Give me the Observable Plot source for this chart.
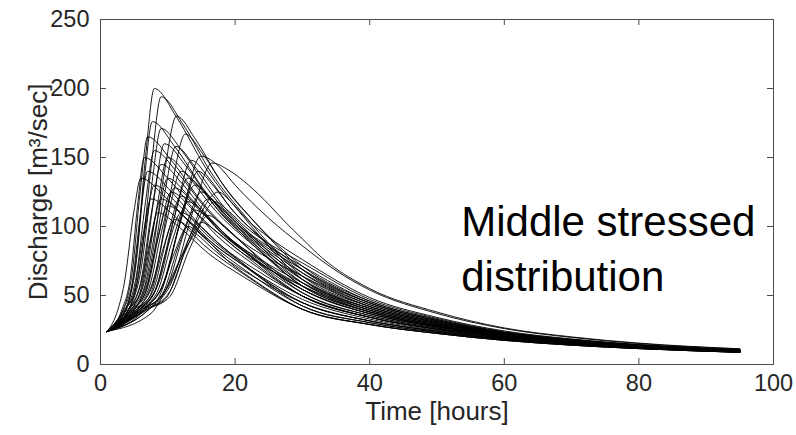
<!DOCTYPE html>
<html><head><meta charset="utf-8">
<script src="https://cdn.jsdelivr.net/npm/d3@7"></script>
<script src="https://cdn.jsdelivr.net/npm/@observablehq/plot@0.6"></script>
<style>html,body{margin:0;padding:0;background:#fff;}</style>
</head><body><div id="chart"></div>
<script>
// Each run: [time (hours), discharge (m3/sec)] points
const run01 = [[1,24],[3.8,40],[5.3,76.8],[6.7,150.7],[8,200],[11.3,179.2],[15.7,141.9],[21.2,107.3],[30,61.6],[40,40.7],[50,29.5],[60,21.6],[70,16.7],[80,13.3],[95,10]];
const run02 = [[1,24],[4.2,40],[6,75],[7.6,146.4],[9,194],[12.2,174.5],[16.4,139.4],[21.6,106.9],[30,64],[40,42],[50,30.3],[60,22],[70,17],[80,13.5],[95,10.1]];
const run03 = [[1,24],[5.1,40],[7.4,70.8],[9.4,136.3],[11.3,180],[14.1,163.3],[17.8,133.3],[22.5,105.5],[30,68.8],[40,44.6],[50,31.8],[60,22.9],[70,17.6],[80,13.9],[95,10.4]];
const run04 = [[1,24],[3.7,40],[5.2,69.6],[6.5,133.4],[7.7,176],[11,158.1],[15.5,125.9],[21.1,96.1],[30,56.8],[40,38.1],[50,27.9],[60,20.7],[70,16.1],[80,12.9],[95,9.7]];
const run05 = [[1,24],[5.6,40],[8.2,66.9],[10.5,127],[12.6,167],[15.2,152.6],[18.7,126.8],[23,102.8],[30,71.2],[40,45.9],[50,32.6],[60,23.4],[70,17.9],[80,14.1],[95,10.5]];
const run06 = [[1,24],[4.2,40],[6,68.1],[7.6,129.8],[9,171],[12.2,154.2],[16.4,124],[21.6,96.1],[30,59.2],[40,39.4],[50,28.7],[60,21.1],[70,16.4],[80,13.1],[95,9.8]];
const run07 = [[1,24],[7.2,40],[10.7,61],[13.8,112],[16.6,146],[19,141],[22,130],[25,116],[27.3,104],[30,91],[33,77],[40,55],[50,38],[60,26.5],[70,20],[80,15.5],[95,11.4]];
const run08 = [[1,24],[5.1,40],[7.3,64.2],[9.4,120.5],[11.2,158],[14,143.5],[17.8,117.5],[22.5,93.4],[30,61.6],[40,40.7],[50,29.5],[60,21.6],[70,16.7],[80,13.3],[95,10]];
const run09 = [[1,24],[6.6,40],[9.6,62],[12.4,115],[14.9,151],[17.5,144],[20,130],[25,106],[30,86],[35,68],[40,54],[50,37],[60,26],[70,19.6],[80,15.2],[95,11.2]];
const run10 = [[1,24],[3.4,40],[4.7,66.3],[5.9,125.5],[7,165],[10.5,148],[15.1,117.5],[20.8,89.3],[30,52],[40,35.5],[50,26.4],[60,19.8],[70,15.5],[80,12.5],[95,9.5]];
const run11 = [[1,24],[3.8,40],[5.3,63.3],[6.7,118.3],[8,155],[11.3,139.9],[15.7,112.7],[21.2,87.6],[30,54.4],[40,36.8],[50,27.2],[60,20.2],[70,15.8],[80,12.7],[95,9.6]];
const run12 = [[1,24],[4.6,40],[6.6,61.8],[8.4,114.7],[10,150],[13,136.4],[17,111.9],[22,89.2],[30,59.2],[40,39.4],[50,28.7],[60,21.1],[70,16.4],[80,13.1],[95,9.8]];
const run13 = [[1,24],[3.4,40],[4.7,58.8],[5.9,107.5],[7,140],[10.5,125.4],[15.1,99],[20.8,74.6],[30,42.4],[40,30.3],[50,23.3],[60,18],[70,14.3],[80,11.7],[95,8.9]];
const run14 = [[1,24],[4.2,40],[6,60.3],[7.6,111.1],[9,145],[12.2,130.7],[16.4,104.9],[21.6,81.1],[30,49.6],[40,34.2],[50,25.6],[60,19.3],[70,15.2],[80,12.3],[95,9.3]];
const run15 = [[1,24],[5.4,40],[7.8,58.8],[10,107.5],[12,140],[14.7,128.2],[18.3,107.1],[22.8,87.5],[30,61.6],[40,40.7],[50,29.5],[60,21.6],[70,16.7],[80,13.3],[95,10]];
const run16 = [[1,24],[5.8,40],[8.4,57.3],[10.8,103.9],[13,135],[15.6,124.4],[19,105.2],[23.2,87.4],[30,64],[40,42],[50,30.3],[60,22],[70,17],[80,13.5],[95,10.1]];
const run17 = [[1,24],[4.6,40],[6.6,57.3],[8.4,103.9],[10,135],[13,122.6],[17,100.1],[22,79.4],[30,52],[40,35.5],[50,26.4],[60,19.8],[70,15.5],[80,12.5],[95,9.5]];
const run18 = [[1,24],[3.8,40],[5.3,55.8],[6.7,100.3],[8,130],[11.3,117.2],[15.7,94.2],[21.2,72.9],[30,44.8],[40,31.6],[50,24.1],[60,18.4],[70,14.6],[80,11.9],[95,9.1]];
const run19 = [[1,24],[6.2,40],[9.1,55.8],[11.7,100.3],[14,130],[16.4,120.5],[19.6,103.3],[23.6,87.4],[30,66.4],[40,43.3],[50,31],[60,22.5],[70,17.3],[80,13.7],[95,10.2]];
const run20 = [[1,24],[5,40],[7.2,55.2],[9.2,98.9],[11,128],[13.9,117],[17.7,97.1],[22.4,78.7],[30,54.4],[40,36.8],[50,27.2],[60,20.2],[70,15.8],[80,12.7],[95,9.6]];
const run21 = [[1,24],[6.6,40],[9.7,54.3],[12.5,96.7],[15,125],[17.3,116.6],[20.3,101.4],[24,87.3],[30,68.8],[40,44.6],[50,31.8],[60,22.9],[70,17.6],[80,13.9],[95,10.4]];
const run22 = [[1,24],[5.4,40],[7.8,53.4],[10,94.6],[12,122],[14.7,111.9],[18.3,93.6],[22.8,76.7],[30,54.4],[40,36.8],[50,27.2],[60,20.2],[70,15.8],[80,12.7],[95,9.6]];
const run23 = [[1,24],[7,40],[10.3,52.8],[13.3,93.1],[16,120],[18.1,112.7],[20.9,99.5],[24.4,87.3],[30,71.2],[40,45.9],[50,32.6],[60,23.4],[70,17.9],[80,14.1],[95,10.5]];
const run24 = [[1,24],[4.2,40],[6,52.8],[7.6,93.1],[9,120],[12.2,108.4],[16.4,87.4],[21.6,68],[30,42.4],[40,30.3],[50,23.3],[60,18],[70,14.3],[80,11.7],[95,8.9]];
const run25 = [[1,24],[5.8,40],[8.4,52.2],[10.8,91.7],[13,118],[15.6,108.8],[19,92.3],[23.2,77],[30,56.8],[40,38.1],[50,27.9],[60,20.7],[70,16.1],[80,12.9],[95,9.7]];
const run26 = [[1,24],[7.5,37],[9.8,55],[11.7,75],[14.1,96],[17,118],[19,111.3],[21.6,99.4],[24.8,88.3],[30,73.6],[40,47.2],[50,33.4],[60,23.8],[70,18.2],[80,14.3],[95,10.6]];
const run27 = [[1,24],[4.6,40],[6.6,51.3],[8.4,89.5],[10,115],[13,104.8],[17,86.5],[22,69.6],[30,47.2],[40,32.9],[50,24.8],[60,18.9],[70,14.9],[80,12.1],[95,9.2]];
const run28 = [[1,24],[6.2,40],[9.1,50.4],[11.7,87.4],[14,112],[16.4,104.1],[19.6,89.8],[23.6,76.6],[30,59.2],[40,39.4],[50,28.7],[60,21.1],[70,16.4],[80,13.1],[95,9.8]];
const run29 = [[1,24],[5.4,40],[7.8,49.8],[10,85.9],[12,110],[14.7,100.9],[18.3,84.6],[22.8,69.5],[30,49.6],[40,34.2],[50,25.6],[60,19.3],[70,15.2],[80,12.3],[95,9.3]];
const run30 = [[1,24],[7,40],[10.3,49.2],[13.3,84.5],[16,108],[18.1,101.4],[20.9,89.5],[24.4,78.5],[30,64],[40,42],[50,30.3],[60,22],[70,17],[80,13.5],[95,10.1]];
const run31 = [[1,24],[5,40],[7.2,48.3],[9.2,82.3],[11,105],[13.9,96],[17.7,79.7],[22.4,64.7],[30,44.8],[40,31.6],[50,24.1],[60,18.4],[70,14.6],[80,11.9],[95,9.1]];
const run32 = [[1,24],[6.6,40],[9.7,47.7],[12.5,80.9],[15,103],[17.3,96.1],[20.3,83.6],[24,72],[30,56.8],[40,38.1],[50,27.9],[60,20.7],[70,16.1],[80,12.9],[95,9.7]];
const run33 = [[1,24],[5.8,40],[8.4,46.8],[10.8,78.7],[13,100],[15.6,91],[19,74.8],[23.2,59.8],[30,40],[40,29],[50,22.5],[60,17.5],[70,14],[80,11.5],[95,8.8]];
const run34 = [[1,24],[3.2,40],[4.4,61.8],[5.5,114.7],[6.5,150],[10,134.9],[14.7,107.8],[20.6,82.7],[30,49.6],[40,34.2],[50,25.6],[60,19.3],[70,15.2],[80,12.3],[95,9.3]];
const run35 = [[1,24],[3.6,40],[5,52.8],[6.3,93.1],[7.5,120],[10.9,108],[15.4,86.4],[21,66.4],[30,40],[40,29],[50,22.5],[60,17.5],[70,14],[80,11.5],[95,8.8]];
const run36 = [[1,24],[7.2,40],[10,56],[13.5,95],[17.5,125],[19.4,117.7],[21.9,104.4],[25,92.2],[30,76],[40,48.5],[50,34.1],[60,24.3],[70,18.5],[80,14.5],[95,10.8]];
const run37 = [[1,24],[6.4,40],[9.4,58.8],[12.1,107.5],[14.5,140],[16.8,129.3],[19.9,110.1],[23.8,92.3],[30,68.8],[40,44.6],[50,31.8],[60,22.9],[70,17.6],[80,13.9],[95,10.4]];
const run38 = [[1,24],[4.8,40],[6.9,54.3],[8.8,96.7],[10.5,125],[13.4,113.7],[17.3,93.3],[22.2,74.5],[30,49.6],[40,34.2],[50,25.6],[60,19.3],[70,15.2],[80,12.3],[95,9.3]];
const run39 = [[1,24],[4,40],[5.7,49.8],[7.2,85.9],[8.5,110],[11.7,99.5],[16,80.6],[21.4,63.1],[30,40],[40,29],[50,22.5],[60,17.5],[70,14],[80,11.5],[95,8.8]];
const run40 = [[1,24],[4.4,40],[6.3,64.8],[8,121.9],[9.5,160],[12.6,144.5],[16.7,116.7],[21.8,90.9],[30,56.8],[40,38.1],[50,27.9],[60,20.7],[70,16.1],[80,12.9],[95,9.7]];
const run41 = [[1,24],[2.6,40],[3.5,58],[5,112],[6,135],[9.6,121.5],[14.4,97.1],[20.4,74.6],[30,44.8],[40,31.6],[50,24.1],[60,18.4],[70,14.6],[80,11.9],[95,9.1]];
const run42 = [[1,24],[6,40],[8.8,61.2],[11.3,113.3],[13.5,148],[16,135.8],[19.3,113.7],[23.4,93.3],[30,66.4],[40,43.3],[50,31],[60,22.5],[70,17.3],[80,13.7],[95,10.2]];

const xTicks = [0, 20, 40, 60, 80, 100];
const yTicks = [0, 50, 100, 150, 200, 250];
const xTitle = "Time [hours]";
const yTitle = "Discharge [m³/sec]";
const note = "Middle stressed\ndistribution";

const runs = [run01,run02,run03,run04,run05,run06,run07,run08,run09,run10,run11,run12,run13,run14,
  run15,run16,run17,run18,run19,run20,run21,run22,run23,run24,run25,run26,run27,run28,
  run29,run30,run31,run32,run33,run34,run35,run36,run37,run38,run39,run40,run41,run42];
const rows = runs.flatMap((r, i) => r.map(([t, q]) => ({run: i, t, q})));

const W = 796, H = 435, mL = 100, mR = 23, mT = 19, mB = 71;
const innerW = W - mL - mR, innerH = H - mT - mB;
const font = "'Liberation Sans', Arial, Helvetica, sans-serif";
const axisColor = "#4d4d4d";

const chart = Plot.plot({
  width: W, height: H,
  marginLeft: mL, marginRight: mR, marginTop: mT, marginBottom: mB,
  style: {fontFamily: font, background: "#fff", color: "#262626"},
  x: {domain: [0, 100]},
  y: {domain: [0, 250]},
  marks: [
    Plot.line(rows, {x: "t", y: "q", z: "run", stroke: "#000", strokeWidth: 0.9, curve: "monotone-x"}),
    Plot.frame({stroke: axisColor}),
    Plot.ruleX(xTicks, {x: d => d, insetTop: innerH - 6, stroke: axisColor}),
    Plot.ruleX(xTicks, {x: d => d, insetBottom: innerH - 6, stroke: axisColor}),
    Plot.ruleY(yTicks, {y: d => d, insetRight: innerW - 6, stroke: axisColor}),
    Plot.ruleY(yTicks, {y: d => d, insetLeft: innerW - 6, stroke: axisColor}),
    Plot.axisX({ticks: xTicks, tickSize: 0, tickPadding: 10, fontSize: 23.5, label: null, fill: "#262626"}),
    Plot.axisY({ticks: yTicks, tickSize: 0, tickPadding: 11, fontSize: 23.5, label: null, fill: "#262626"}),
    Plot.text([xTitle], {text: d => d, frameAnchor: "bottom", dy: 55, lineAnchor: "bottom", fontSize: 26, fill: "#262626"}),
    Plot.text([yTitle], {text: d => d, frameAnchor: "left", textAnchor: "middle", dx: -54, rotate: -90, lineAnchor: "bottom", fontSize: 26, fill: "#262626"}),
    Plot.text([note], {text: d => d, x: 53.6, y: 53.6, textAnchor: "start", lineAnchor: "bottom", lineHeight: 1.31, fontSize: 42, fill: "#000"})
  ]
});
document.getElementById("chart").appendChild(chart);
</script>
</body></html>
